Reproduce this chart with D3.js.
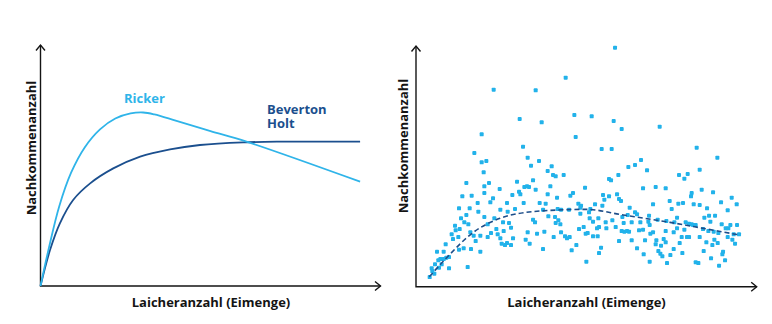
<!DOCTYPE html>
<html>
<head>
<meta charset="utf-8">
<script src="https://cdn.jsdelivr.net/npm/d3@7"></script>
<style>
    html, body { margin: 0; padding: 0; background: #ffffff; }
    svg { display: block; font-family: 'Open Sans', 'Noto Sans', sans-serif; }
</style>
</head>
<body>
<svg id="chart" width="772" height="324"></svg>
<script>
// left panel: stock-recruitment model curves (relative units 0-100)
var rickerX = [0, 2.5, 5.5, 9.0, 13.0, 17.5, 22.0, 26.5, 30.2, 33.5, 40.0, 50.0, 60.6, 94.0];
var rickerY = [0, 16.0, 33.0, 47.0, 57.5, 65.0, 69.5, 71.6, 72.0, 71.2, 68.5, 64.3, 59.9, 43.3];
var bevertonX = [0, 2.8, 5.7, 9.6, 14.6, 21.4, 29.3, 38.1, 46.9, 59.6, 70.4, 94.0];
var bevertonY = [0, 14.9, 26.0, 35.7, 42.6, 48.8, 53.7, 56.7, 58.5, 59.6, 59.9, 59.9];

// right panel: observed spawners vs recruits (relative units)
var observations = [
    [597, 717], [449, 627], [233, 591], [359, 589], [311, 503], [377, 493], [475, 515], [527, 511],
    [593, 497], [617, 473], [731, 480], [479, 449], [197, 457], [175, 401], [557, 413], [587, 413],
    [321, 420], [842, 417], [904, 387], [335, 387], [369, 377], [197, 373], [211, 377], [675, 380],
    [637, 359], [657, 365], [345, 363], [407, 361], [395, 347], [203, 343], [693, 349], [851, 351],
    [411, 335], [419, 331], [443, 335], [607, 335], [789, 335], [815, 338], [805, 324], [579, 323],
    [585, 319], [151, 311], [303, 315], [351, 319], [205, 301], [219, 311], [325, 299], [333, 301],
    [339, 299], [403, 301], [507, 297], [359, 291], [251, 293], [205, 281], [309, 285], [719, 299],
    [749, 295], [681, 295], [857, 291], [891, 283], [827, 281], [139, 271], [167, 273], [313, 277],
    [395, 277], [423, 267], [471, 281], [463, 273], [561, 275], [603, 277], [579, 271], [609, 263],
    [615, 257], [565, 261], [231, 265], [289, 275], [761, 257], [825, 271], [947, 267], [185, 251],
    [323, 251], [273, 251], [223, 253], [371, 251], [389, 249], [487, 249], [495, 243], [537, 247],
    [559, 243], [711, 247], [787, 249], [801, 251], [833, 247], [851, 245], [915, 253], [962, 247],
    [129, 235], [161, 235], [187, 225], [253, 231], [297, 233], [275, 225], [381, 231], [435, 231],
    [425, 233], [459, 231], [493, 237], [523, 233], [519, 223], [641, 237], [657, 223], [767, 233],
    [873, 235], [935, 229], [151, 215], [135, 205], [235, 205], [205, 209], [351, 201], [397, 211],
    [417, 209], [493, 219], [547, 205], [521, 205], [619, 209], [635, 215], [663, 217], [699, 213],
    [725, 201], [783, 207], [879, 213], [897, 213], [865, 207], [883, 195], [145, 193], [117, 183],
    [131, 173], [157, 187], [215, 187], [261, 193], [279, 191], [357, 193], [427, 199], [433, 187],
    [531, 195], [569, 193], [589, 199], [623, 191], [647, 193], [673, 193], [697, 195], [701, 185],
    [751, 197], [775, 193], [809, 193], [819, 189], [827, 187], [839, 185], [917, 187], [943, 185],
    [963, 185], [119, 169], [107, 157], [127, 149], [111, 143], [163, 163], [173, 153], [193, 153],
    [225, 161], [241, 173], [245, 157], [263, 167], [285, 177], [335, 163], [363, 159], [385, 165],
    [419, 191], [447, 151], [453, 145], [461, 149], [489, 173], [509, 159], [503, 179], [515, 161],
    [543, 175], [549, 179], [571, 175], [599, 179], [617, 167], [625, 165], [633, 167], [639, 165],
    [669, 169], [681, 171], [703, 159], [711, 163], [749, 167], [773, 163], [805, 171], [831, 185],
    [861, 173], [877, 167], [893, 165], [907, 161], [929, 175], [937, 175], [953, 157], [969, 157],
    [89, 127], [83, 105], [63, 105], [73, 83], [91, 87], [99, 89], [83, 83], [67, 79],
    [57, 67], [77, 67], [69, 57], [99, 55], [47, 55], [49, 47], [55, 39], [41, 29],
    [129, 111], [143, 115], [155, 59], [165, 113], [179, 137], [193, 105], [215, 149], [257, 129],
    [253, 145], [267, 125], [273, 131], [285, 125], [291, 145], [329, 141], [341, 129], [381, 113],
    [413, 149], [435, 163], [467, 109], [481, 125], [511, 75], [531, 151], [545, 151], [549, 101],
    [555, 117], [609, 137], [647, 139], [663, 115], [687, 139], [683, 97], [701, 75], [719, 127],
    [721, 139], [727, 107], [733, 99], [735, 123], [739, 91], [743, 143], [749, 133], [753, 71],
    [763, 95], [773, 113], [791, 131], [799, 101], [813, 149], [819, 149], [839, 73], [847, 71],
    [851, 149], [863, 107], [871, 133], [885, 85], [889, 125], [909, 63], [919, 97], [921, 105],
    [927, 79], [935, 149], [949, 141], [957, 129], [895, 141], [905, 131], [783, 175], [797, 149]
];
var trendX = [40, 92, 172, 252, 372, 510, 622, 762, 862, 971];
var trendY = [30, 87, 163, 205, 227, 232, 215, 193, 175, 155];

var xAxisTitle = 'Laicheranzahl (Eimenge)';
var yAxisTitle = 'Nachkommenanzahl';

(function () {
    'use strict';

    var svg = d3.select('#chart');
    var axisColor = '#141414';
    var lightBlue = '#2fb4e9';
    var darkBlue = '#1b4f8e';
    var fontSize = '13px';

    // ---- left panel ----
    var xLeft = d3.scaleLinear().domain([0, 100]).range([40.5, 380.5]);
    var yLeft = d3.scaleLinear().domain([0, 100]).range([286, 45]);

    drawAxes(xLeft, yLeft, 211, 35.5, 148);

    var lineLeft = d3.line()
        .x(function (d) { return xLeft(d[0]); })
        .y(function (d) { return yLeft(d[1]); })
        .curve(d3.curveCatmullRom.alpha(0.5));

    svg.append('path')
        .datum(d3.zip(bevertonX, bevertonY))
        .attr('d', lineLeft)
        .style('fill', 'none')
        .style('stroke', darkBlue)
        .style('stroke-width', 1.8);

    svg.append('path')
        .datum(d3.zip(rickerX, rickerY))
        .attr('d', lineLeft)
        .style('fill', 'none')
        .style('stroke', lightBlue)
        .style('stroke-width', 1.8);

    label(124, 102.5, 'Ricker', lightBlue);
    label(267, 114, 'Beverton', darkBlue);
    label(267, 128, 'Holt', darkBlue);

    // ---- right panel ----
    var xRight = d3.scaleLinear().domain([0, 1022]).range([416, 756.7]);
    var yRight = d3.scaleLinear().domain([0, 722]).range([286.7, 46]);

    drawAxes(xRight, yRight, 586.5, 407.5, 146);

    var size = 4;
    svg.append('g').selectAll('rect')
        .data(observations)
        .enter().append('rect')
        .attr('x', function (d) { return xRight(d[0]) - size / 2; })
        .attr('y', function (d) { return yRight(d[1]) - size / 2; })
        .attr('width', size)
        .attr('height', size)
        .attr('rx', 0.9)
        .style('fill', '#22b2ea');

    var trendLine = d3.line()
        .x(function (d) { return xRight(d[0]); })
        .y(function (d) { return yRight(d[1]); })
        .curve(d3.curveMonotoneX);

    svg.append('path')
        .datum(d3.zip(trendX, trendY))
        .attr('d', trendLine)
        .style('fill', 'none')
        .style('stroke', '#1d4e8a')
        .style('stroke-width', 1.6)
        .style('stroke-dasharray', '5,3');

    function label(x, y, txt, color) {
        svg.append('text')
            .attr('x', x)
            .attr('y', y)
            .style('font-size', fontSize)
            .style('font-weight', 700)
            .style('fill', color)
            .text(txt);
    }

    function drawAxes(x, y, titleX, yTitleX, yTitleY) {
        var x0 = x.range()[0], x1 = x.range()[1];
        var y0 = y.range()[0], y1 = y.range()[1];
        var a = 4.5;
        var g = svg.append('g')
            .style('fill', 'none')
            .style('stroke', axisColor)
            .style('stroke-width', 1.4);

        g.append('path').attr('d', 'M' + x0 + ',' + y1 + 'V' + y0 + 'H' + x1);
        g.append('path').attr('d', 'M' + (x0 - a) + ',' + (y1 + a + 1) + 'L' + x0 + ',' + y1 + 'L' + (x0 + a) + ',' + (y1 + a + 1));
        g.append('path').attr('d', 'M' + (x1 - a - 1) + ',' + (y0 - a) + 'L' + x1 + ',' + y0 + 'L' + (x1 - a - 1) + ',' + (y0 + a));

        svg.append('text')
            .attr('x', titleX)
            .attr('y', 306.5)
            .attr('text-anchor', 'middle')
            .style('font-size', fontSize)
            .style('font-weight', 700)
            .style('fill', axisColor)
            .text(xAxisTitle);

        svg.append('text')
            .attr('transform', 'translate(' + yTitleX + ',' + yTitleY + ') rotate(-90)')
            .attr('text-anchor', 'middle')
            .style('font-size', fontSize)
            .style('font-weight', 700)
            .style('fill', axisColor)
            .text(yAxisTitle);
    }
})();
</script>
</body>
</html>
